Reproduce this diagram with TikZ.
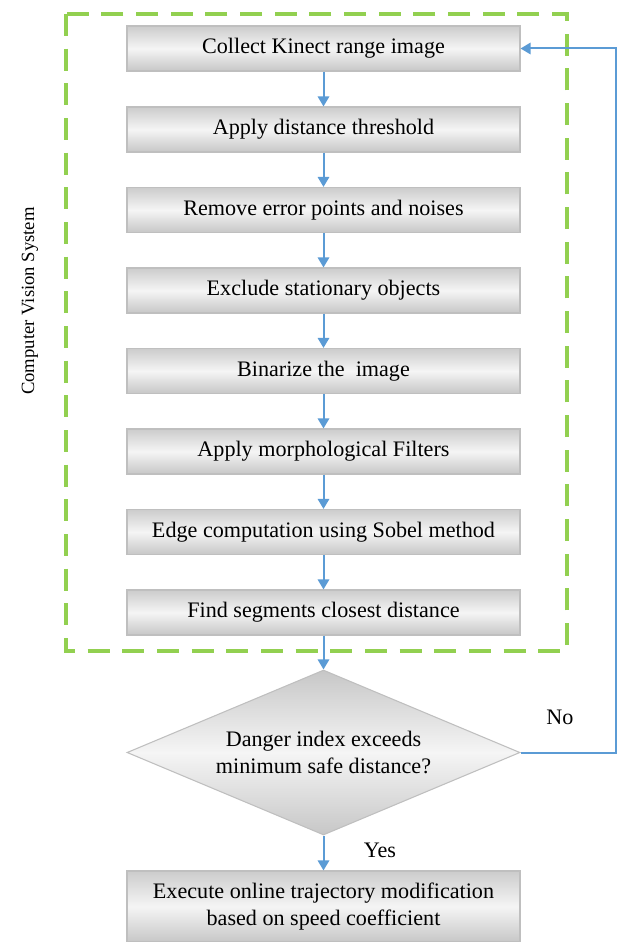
\documentclass[tikz,border=0pt]{standalone}
\usepackage{fontspec}
\setmainfont{Liberation Serif}
\usetikzlibrary{arrows.meta, shapes.geometric, positioning}
\definecolor{cvGreen}{RGB}{146,208,80}
\definecolor{flowBlue}{RGB}{91,155,213}
\tikzset{
    stepBox/.style={rectangle, draw=black!25, line width=0.8pt, top color=black!20, bottom color=black!22, middle color=black!4, minimum width=294.75pt, minimum height=33.75pt, inner sep=2pt, font=\fontsize{16.6}{20}\selectfont},
    decideBox/.style={diamond, draw=black!25, line width=0.8pt, top color=black!22, bottom color=black!22, middle color=black!4, shape aspect=2.38, minimum width=294.75pt, minimum height=123.75pt, inner sep=0pt, align=center, font=\fontsize{16.6}{20.5}\selectfont},
    flowEdge/.style={-{Triangle[width=8.5pt, length=7.5pt]}, flowBlue, line width=1.5pt},
    cvFrame/.style={cvGreen, line width=3pt, dash pattern=on 16.5pt off 9.5pt},
    plainText/.style={font=\fontsize{16.6}{20}\selectfont, inner sep=0pt},
}
\newcommand{\drawFlow}[2]{
    \draw[flowEdge] (#1) -- (#2);
}

\begin{document}
\begin{tikzpicture}[x=0.75pt, y=-0.75pt]
        \useasboundingbox (0, 0) rectangle (619, 942);

        \draw[cvFrame] (66, 14) rectangle (567, 651);
        \node[plainText, font=\fontsize{14}{17}\selectfont, rotate=90] (cvLabel) at (30, 301) {Computer Vision System};

        \node[stepBox] (collect) at (323.5, 48.5) {Collect Kinect range image};
        \node[stepBox] (thresh) at (323.5, 129.5) {Apply distance threshold};
        \node[stepBox] (remove) at (323.5, 210) {Remove error points and noises};
        \node[stepBox] (exclude) at (323.5, 290.5) {Exclude stationary objects};
        \node[stepBox] (binarize) at (323.5, 371) {Binarize the \ image};
        \node[stepBox] (morph) at (323.5, 451.5) {Apply morphological Filters};
        \node[stepBox] (edge) at (323.5, 532) {Edge computation using Sobel method};
        \node[stepBox] (closest) at (323.5, 612.5) {Find segments closest distance};
        \node[decideBox] (decide) at (323.5, 752.5) {Danger index exceeds\\minimum safe distance?};
        \node[stepBox, align=center, minimum height=53.25pt] (execute) at (323.5, 906.5) {Execute online trajectory modification\\based on speed coefficient};

        \node[plainText] (noLabel) at (560, 717) {No};
        \node[plainText] (yesLabel) at (380, 850) {Yes};
        \coordinate (loopTurn) at (616, 752.5);

        \drawFlow{collect}{thresh}
        \drawFlow{thresh}{remove}
        \drawFlow{remove}{exclude}
        \drawFlow{exclude}{binarize}
        \drawFlow{binarize}{morph}
        \drawFlow{morph}{edge}
        \drawFlow{edge}{closest}
        \drawFlow{closest}{decide}
        \drawFlow{decide}{execute}
        \draw[flowEdge] (decide.east) -- (loopTurn) |- (collect.east);

    \end{tikzpicture}
\end{document}
